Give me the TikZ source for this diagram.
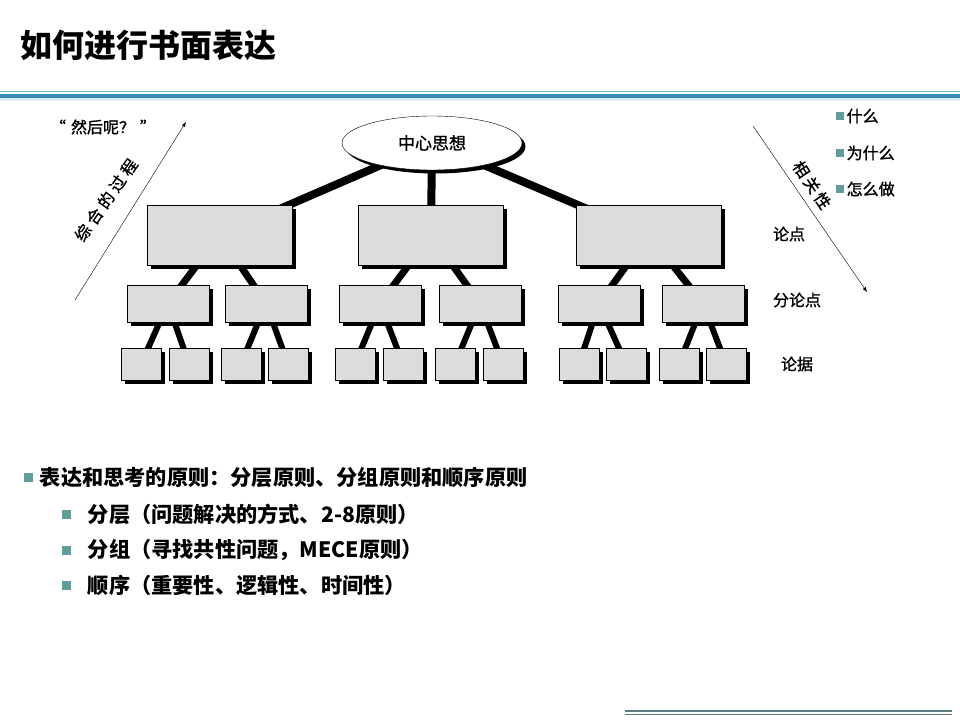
\documentclass[tikz,border=0pt]{standalone}
\usepackage{fontspec}
\setmainfont{Liberation Sans}
\newfontfamily\cjk{Noto Sans CJK SC}
\newfontfamily\cjkmid[FakeBold=1.2]{Noto Sans CJK SC}
\usetikzlibrary{arrows.meta,positioning,shapes.geometric,shadows,backgrounds}
\definecolor{BoxGray}{HTML}{DCDCDC}
\definecolor{BulletTeal}{HTML}{5F9E9B}
\definecolor{RuleBlue}{HTML}{3A8DB8}
\definecolor{RuleLight}{HTML}{6CC0E0}
\definecolor{RuleGray}{HTML}{5C7A80}

\begin{document}
\begin{tikzpicture}[x=1pt,y=-1pt,>=Latex]
\tikzstyle{shadowed}=[draw=black,thin,fill=BoxGray,drop shadow={shadow xshift=3.5pt,shadow yshift=-3.5pt,fill=black,opacity=1}]
\tikzstyle{topbox}=[rectangle,shadowed,minimum width=145pt,minimum height=60pt]
\tikzstyle{midbox}=[rectangle,shadowed,minimum width=82pt,minimum height=37pt]
\tikzstyle{leafbox}=[rectangle,shadowed,minimum width=40pt,minimum height=32pt]
\tikzstyle{tag}=[font=\cjkmid\fontsize{16}{19}\selectfont,inner sep=1pt]
\tikzstyle{smallsq}=[rectangle,fill=BulletTeal,minimum size=7.5pt,inner sep=0pt]
\tikzstyle{bigsq}=[rectangle,fill=BulletTeal,minimum size=9pt,inner sep=0pt]
\tikzstyle{point}=[anchor=west,font=\cjk\bfseries\fontsize{21.2}{25}\selectfont,inner sep=0pt]
\useasboundingbox (0,0) rectangle (960,720);
% title and rules
\node[anchor=west,font=\cjk\bfseries\fontsize{32}{36}\selectfont,inner sep=0pt] (title) at (20,45) {如何进行书面表达};
\draw[RuleLight,line width=1.5pt] (0,91.5) -- (960,91.5);
\draw[RuleBlue,line width=4pt] (0,95.5) -- (960,95.5);
\fill[RuleLight!25] (0,97.5) rectangle (960,101);
\draw[RuleGray,line width=1.2pt] (625,711) -- (952,711);
\draw[RuleGray,line width=1.2pt] (625,714.5) -- (952,714.5);
% tree
\node[ellipse,shadowed,fill=white,minimum width=180pt,minimum height=54pt,tag,font=\cjkmid\fontsize{17}{20}\selectfont] (root) at (432,143) {中心思想};
\node[topbox] (t1) at (219.5,235) {};
\node[topbox] (t2) at (431,235) {};
\node[topbox] (t3) at (648.5,235) {};
\node[midbox] (m11) at (168,303.5) {};
\node[midbox] (m12) at (266,303.5) {};
\node[midbox] (m21) at (380,303.5) {};
\node[midbox] (m22) at (480,303.5) {};
\node[midbox] (m31) at (599,303.5) {};
\node[midbox] (m32) at (703,303.5) {};
\node[leafbox] (l111) at (141,364) {};
\node[leafbox] (l112) at (189,364) {};
\node[leafbox] (l121) at (241,364) {};
\node[leafbox] (l122) at (288,364) {};
\node[leafbox] (l211) at (355,364) {};
\node[leafbox] (l212) at (403,364) {};
\node[leafbox] (l221) at (455,364) {};
\node[leafbox] (l222) at (503,364) {};
\node[leafbox] (l311) at (579,364) {};
\node[leafbox] (l312) at (626,364) {};
\node[leafbox] (l321) at (679,364) {};
\node[leafbox] (l322) at (726,364) {};
\begin{scope}[on background layer]
\draw[line width=8pt] (root.center) -- (t1.center) (root.center) -- (t2.center) (root.center) -- (t3.center);
\draw[line width=7pt] (t1.center) -- (m11.center) (t1.center) -- (m12.center);
\draw[line width=7pt] (t2.center) -- (m21.center) (t2.center) -- (m22.center);
\draw[line width=7pt] (t3.center) -- (m31.center) (t3.center) -- (m32.center);
\draw[line width=6pt] (m11.center) -- (l111.center) (m11.center) -- (l112.center);
\draw[line width=6pt] (m12.center) -- (l121.center) (m12.center) -- (l122.center);
\draw[line width=6pt] (m21.center) -- (l211.center) (m21.center) -- (l212.center);
\draw[line width=6pt] (m22.center) -- (l221.center) (m22.center) -- (l222.center);
\draw[line width=6pt] (m31.center) -- (l311.center) (m31.center) -- (l312.center);
\draw[line width=6pt] (m32.center) -- (l321.center) (m32.center) -- (l322.center);
\end{scope}
% side arrows
\coordinate (sfrom) at (75,300);
\coordinate (sto) at (186,122);
\draw[->,thin] (sfrom) -- (sto);
\node[tag,rotate=55] (synth) at (106,200) {综\hspace{4pt}合\hspace{4pt}的\hspace{4pt}过\hspace{4pt}程};
\node[tag] (then) at (103,127) {“\hspace{5pt}然后呢？\hspace{5pt}”};
\coordinate (rfrom) at (753,126);
\coordinate (rto) at (867,292);
\draw[->,thin] (rfrom) -- (rto);
\node[tag,rotate=-56] (rel) at (812,185) {相\hspace{3pt}关\hspace{3pt}性};
\node[tag] (lv1) at (789,234) {论点};
\node[tag] (lv2) at (797,300) {分论点};
\node[tag] (lv3) at (797,364) {论据};
% right bullets
\node[smallsq] (q1) at (840,116) {};
\node[tag,right=1.5pt of q1] {什么};
\node[smallsq] (q2) at (840,153) {};
\node[tag,right=1.5pt of q2] {为什么};
\node[smallsq] (q3) at (840,189) {};
\node[tag,right=1.5pt of q3] {怎么做};
% principles
\node[bigsq] (p0) at (28,477) {};
\node[point,right=7pt of p0] {表达和思考的原则：分层原则、分组原则和顺序原则};
\node[bigsq] (p1) at (66,514) {};
\node[point,right=17pt of p1] {分层（问题解决的方式、2-8原则）};
\node[bigsq] (p2) at (66,550) {};
\node[point,right=17pt of p2] {分组（寻找共性问题，MECE原则）};
\node[bigsq] (p3) at (66,585) {};
\node[point,right=17pt of p3] {顺序（重要性、逻辑性、时间性）};
\end{tikzpicture}
\end{document}
